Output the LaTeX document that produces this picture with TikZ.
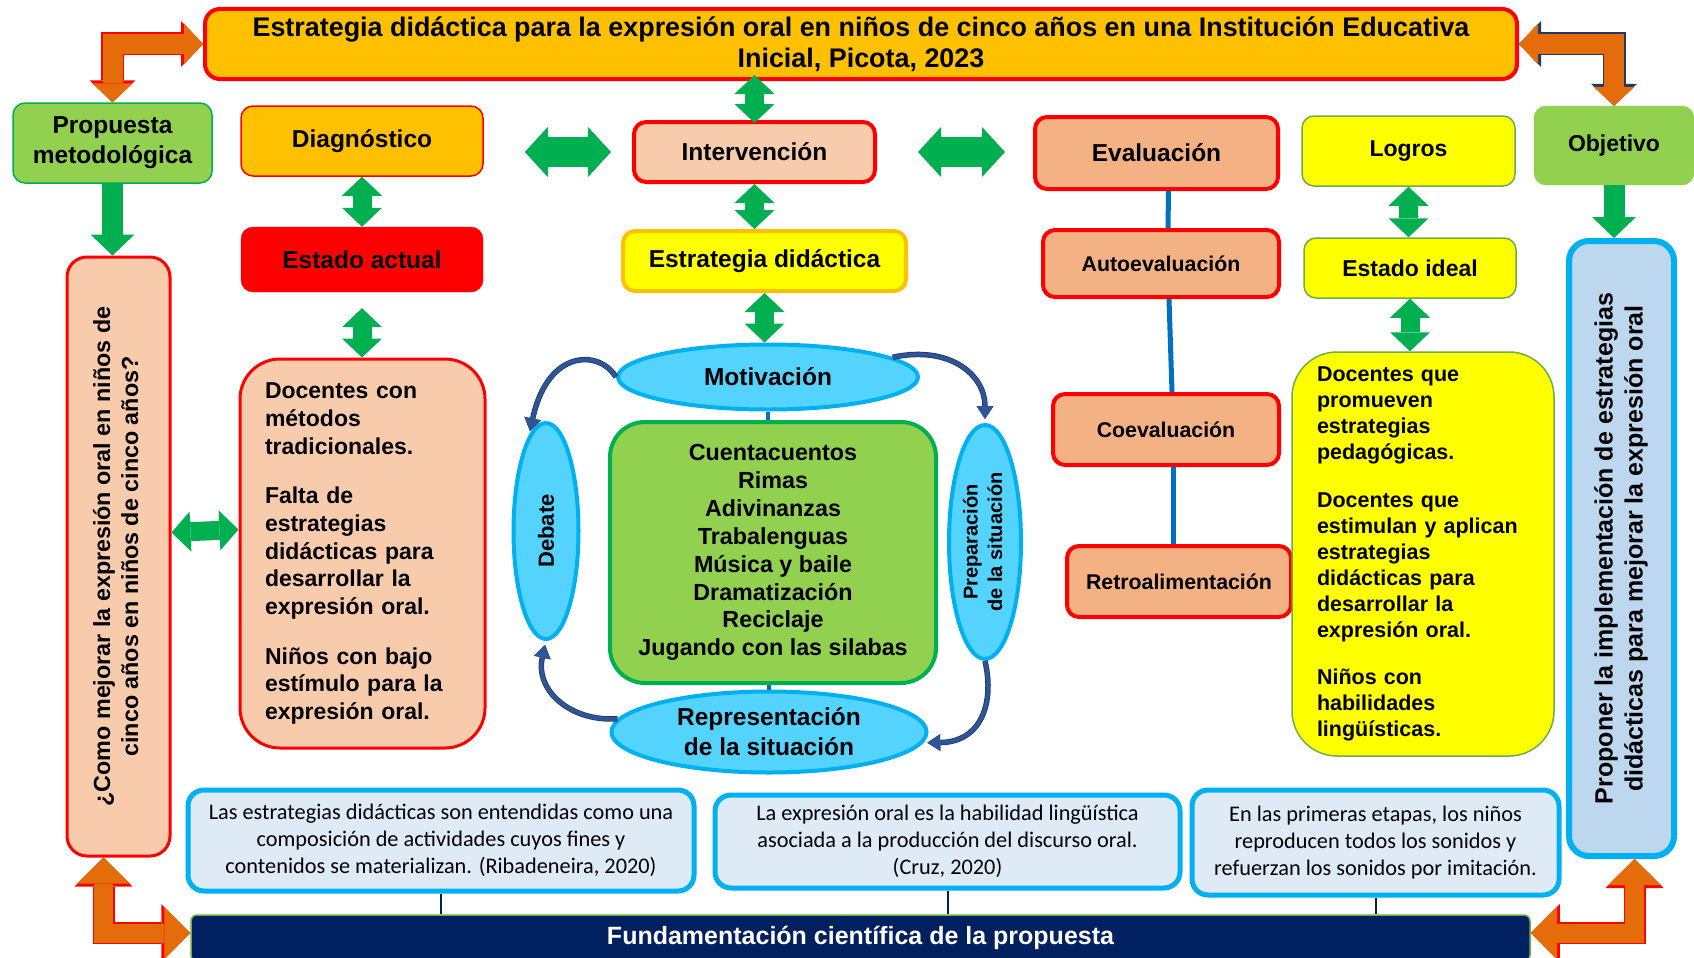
\documentclass[tikz,border=0pt]{standalone}
\usepackage{fontspec}
\setmainfont{Liberation Sans}
\newfontfamily\calibri{Carlito}
\usetikzlibrary{arrows.meta,shapes.geometric}

\definecolor{oro}{HTML}{FFC000}
\definecolor{rojo}{HTML}{FF0000}
\definecolor{verdeclaro}{HTML}{92D050}
\definecolor{verde}{HTML}{00B050}
\definecolor{salmon}{HTML}{F8CBAD}
\definecolor{durazno}{HTML}{F4B183}
\definecolor{amarillo}{HTML}{FFFF00}
\definecolor{verdeborde}{HTML}{70AD47}
\definecolor{celeste}{HTML}{BDD7EE}
\definecolor{cian}{HTML}{00B0F0}
\definecolor{cielo}{HTML}{55D3FF}
\definecolor{nube}{HTML}{DEEBF7}
\definecolor{marino}{HTML}{002060}
\definecolor{naranja}{HTML}{E46C0A}
\definecolor{azul}{HTML}{0070C0}
\definecolor{flechaazul}{HTML}{2F5597}
\definecolor{bordeoscuro}{HTML}{203864}

\tikzset{
  caja/.style={rounded corners=12pt, align=center, inner sep=0pt,
    font=\fontsize{24.5}{30}\selectfont\bfseries},
  subcaja/.style={caja, fill=durazno, draw=rojo, line width=4pt,
    font=\fontsize{21.3}{26}\selectfont\bfseries},
  cita/.style={fill=nube, draw=cian, line width=5pt, rounded corners=16pt,
    align=center, inner sep=0pt, font=\calibri\fontsize{22.3}{27}\selectfont},
  ovalo/.style={ellipse, fill=cielo, draw=cian, line width=4pt, inner sep=0pt,
    align=center},
  dobleV/.style={draw=verde, line width=19pt,
    >={Triangle[length=19pt,width=40pt,line width=0pt]}, <->},
  dobleH/.style={draw=verde, line width=30pt,
    >={Triangle[length=23pt,width=50pt,line width=0pt]}, <->},
  bajada/.style={draw=verde, line width=21pt,
    >={Triangle[length=21pt,width=44pt,line width=0pt]}, ->},
  codoborde/.style={line width=23pt, line join=miter,
    >={Triangle[length=22pt,width=46pt,line width=0pt]}, <->},
  codo/.style={draw=naranja, line width=20pt, line join=miter,
    >={Triangle[length=19pt,width=41pt,line width=0pt]}, <->},
  codobordeb/.style={draw=rojo, line width=22pt, line join=miter,
    >={Triangle[length=29pt,width=58pt,line width=0pt]}, <->},
  codob/.style={draw=naranja, line width=19pt, line join=miter,
    >={Triangle[length=26pt,width=53pt,line width=0pt]}, <->},
  ciclo/.style={draw=flechaazul, line width=4pt,
    preaction={draw=bordeoscuro, line width=5.5pt},
    -{Triangle[length=13pt,width=17pt,line width=0pt]}},
  enlace/.style={draw=azul, line width=5pt}
}

\begin{document}
\begin{tikzpicture}[x=1pt,y=-1pt]
\useasboundingbox (0,0) rectangle (1694,958);

% titulo
\node[caja, fill=oro, draw=rojo, line width=4pt, rounded corners=15pt,
  minimum width=1312pt, minimum height=70pt,
  font=\fontsize{26.9}{31}\selectfont\bfseries] (titulo) at (861,44)
  {Estrategia didáctica para la expresión oral en niños de cinco años en una Institución Educativa\\Inicial, Picota, 2023};

% fila superior
\node[caja, fill=verdeclaro, draw=verde, line width=1.5pt, minimum width=199pt,
  minimum height=80pt] (propuesta) at (112.5,143) {Propuesta\\metodológica};
\node[caja, fill=oro, draw=rojo, line width=1.5pt, minimum width=242pt,
  minimum height=70pt] (diagnostico) at (362,141) {Diagnóstico};
\node[caja, fill=rojo, draw=rojo, minimum width=242pt, minimum height=65pt]
  (actual) at (362,259.5) {Estado actual};
\node[caja, fill=salmon, draw=rojo, line width=4pt, minimum width=241pt,
  minimum height=60pt] (intervencion) at (754.5,152) {Intervención};
\node[caja, fill=amarillo, draw=oro, line width=4pt, minimum width=283pt,
  minimum height=60pt] (estrategia) at (764.5,261) {Estrategia didáctica};
\node[caja, fill=durazno, draw=rojo, line width=4pt, minimum width=243pt,
  minimum height=72pt] (evaluacion) at (1156.5,153) {Evaluación};
\node[caja, fill=amarillo, draw=verdeborde, line width=1.5pt, minimum width=213pt,
  minimum height=70pt, font=\fontsize{23}{28}\selectfont\bfseries]
  (logros) at (1408.5,151) {Logros};
\node[caja, fill=verdeclaro, draw=verdeclaro, minimum width=160pt,
  minimum height=79pt, font=\fontsize{23}{28}\selectfont\bfseries]
  (objetivo) at (1614,145.5) {Objetivo};
\node[caja, fill=amarillo, draw=verdeborde, line width=1.5pt, minimum width=212pt,
  minimum height=60pt, font=\fontsize{23}{28}\selectfont\bfseries]
  (ideal) at (1410,268) {Estado ideal};

% evaluacion
\node[subcaja, minimum width=236pt, minimum height=67pt] (auto) at (1161,263.5) {Autoevaluación};
\node[subcaja, minimum width=226pt, minimum height=71pt] (coev) at (1166,429.5) {Coevaluación};
\node[subcaja, minimum width=224pt, minimum height=71pt] (retro) at (1179,581.5) {Retroalimentación};

% columnas laterales
\node[fill=salmon, draw=rojo, line width=3pt, rounded corners=20pt,
  minimum width=103pt, minimum height=599pt, inner sep=0pt,
  font=\fontsize{23.3}{28}\selectfont\bfseries] (pregunta) at (118.5,556.5)
  {\rotatebox{90}{\begin{tabular}{@{}c@{}}¿Como mejorar la expresión oral en niños de\\cinco años en niños de cinco años?\end{tabular}}};
\node[fill=celeste, draw=cian, line width=6pt, rounded corners=20pt,
  minimum width=105pt, minimum height=615pt, inner sep=0pt,
  font=\fontsize{25}{30}\selectfont\bfseries] (proponer) at (1621.5,548.5)
  {\rotatebox{90}{\begin{tabular}{@{}c@{}}Proponer la implementación de estrategias\\didácticas para mejorar la expresión oral\end{tabular}}};

\node[fill=salmon, draw=rojo, line width=3pt, rounded corners=40pt,
  minimum height=389pt, text width=195pt, inner xsep=25pt, inner ysep=0pt,
  align=left, font=\fontsize{23}{27.8}\selectfont\bfseries]
  (actualtexto) at (362.5,553.5)
  {Docentes con\\métodos\\tradicionales.\\[21.6pt]Falta de\\estrategias\\didácticas para\\desarrollar la\\expresión oral.\\[21.6pt]Niños con bajo\\estímulo para la\\expresión oral.};
\node[fill=amarillo, draw=verdeborde, line width=1.5pt, rounded corners=45pt,
  minimum height=404pt, text width=212pt, inner xsep=25pt, inner ysep=0pt,
  align=left, font=\fontsize{21.5}{26}\selectfont\bfseries]
  (idealtexto) at (1423,554)
  {Docentes que\\promueven\\estrategias\\pedagógicas.\\[21.6pt]Docentes que\\estimulan y aplican\\estrategias\\didácticas para\\desarrollar la\\expresión oral.\\[21.6pt]Niños con\\habilidades\\lingüísticas.};

% ciclo de la estrategia
\node[ovalo, minimum width=300pt, minimum height=65pt,
  font=\fontsize{24.5}{30}\selectfont\bfseries] (motivacion) at (768,377) {Motivación};
\node[fill=verdeclaro, draw=verde, line width=4pt, rounded corners=35pt,
  minimum width=326pt, minimum height=261pt, inner sep=0pt, align=center,
  font=\fontsize{23.3}{27.9}\selectfont\bfseries] (actividades) at (773,552.5)
  {Cuentacuentos\\Rimas\\Adivinanzas\\Trabalenguas\\Música y baile\\Dramatización\\Reciclaje\\Jugando con las silabas};
\node[ovalo, minimum width=65pt, minimum height=216pt,
  font=\fontsize{22}{26}\selectfont\bfseries] (debate) at (546,531)
  {\rotatebox{90}{Debate}};
\node[ovalo, minimum width=72pt, minimum height=234pt,
  font=\fontsize{20}{24.5}\selectfont\bfseries] (preparacion) at (985,542)
  {\rotatebox{90}{\begin{tabular}{@{}c@{}}Preparación\\de la situación\end{tabular}}};
\node[ovalo, minimum width=315pt, minimum height=81pt,
  font=\fontsize{24.5}{30}\selectfont\bfseries] (representacion) at (769,732)
  {Representación\\de la situación};

% citas y fundamentacion
\node[cita, minimum width=506pt, minimum height=101pt] (cita1) at (441,840.5)
  {Las estrategias didácticas son entendidas como una\\composición de actividades cuyos fines y\\contenidos se materializan. (Ribadeneira, 2020)};
\node[cita, minimum width=465pt, minimum height=93pt] (cita2) at (947.5,841.5)
  {La expresión oral es la habilidad lingüística\\asociada a la producción del discurso oral.\\(Cruz, 2020)};
\node[cita, minimum width=367pt, minimum height=105pt] (cita3) at (1375.5,842.5)
  {En las primeras etapas, los niños\\reproducen todos los sonidos y\\refuerzan los sonidos por imitación.};
\node[fill=marino, draw=verdeborde, line width=1.5pt, rounded corners=6pt,
  minimum width=1339pt, minimum height=46pt, inner sep=0pt, text=white,
  font=\fontsize{25}{30}\selectfont\bfseries] (fundamentacion) at (860.5,938)
  {Fundamentación científica de la propuesta};

% flechas verdes
\draw[bajada] (propuesta.south) -- (propuesta.south |- pregunta.north);
\draw[bajada] (objetivo.south) -- (objetivo.south |- proponer.north);
\draw[dobleV] (diagnostico.south) -- (actual.north);
\draw[dobleV, shorten <=16pt] (actual.south) -- (actual.south |- actualtexto.north);
\draw[dobleV] ([yshift=24pt]pregunta.east) -- ([yshift=24pt]actualtexto.west);
\draw[dobleH, shorten <=41pt, shorten >=21pt] (diagnostico.east |- intervencion.west) -- (intervencion.west);
\draw[dobleH, shorten <=41pt, shorten >=28pt] (intervencion.east) -- (intervencion.east -| evaluacion.west);
\draw[dobleV, shorten <=-6pt, shorten >=-3pt] (titulo.south -| intervencion.north) -- (intervencion.north);
\draw[dobleV] (intervencion.south) -- (intervencion.south |- estrategia.north);
\draw[dobleV] (estrategia.south) -- (estrategia.south |- motivacion.north);
\draw[dobleV] (logros.south) -- (logros.south |- ideal.north);
\draw[dobleV] (ideal.south) -- (ideal.south |- idealtexto.north);

% flechas naranjas
\draw[codoborde, draw=rojo] (titulo.west) -| (propuesta.north);
\draw[codo] (titulo.west) -| (propuesta.north);
\draw[codoborde, draw=bordeoscuro] (titulo.east) -| (objetivo.north);
\draw[codo] (titulo.east) -| (objetivo.north);
\draw[codobordeb] ([xshift=-15pt]pregunta.south) |- ([yshift=5pt]fundamentacion.west);
\draw[codob] ([xshift=-15pt]pregunta.south) |- ([yshift=5pt]fundamentacion.west);
\draw[codobordeb] ([xshift=13pt]proponer.south) |- ([yshift=5pt]fundamentacion.east);
\draw[codob] ([xshift=13pt]proponer.south) |- ([yshift=5pt]fundamentacion.east);

% lineas azules
\draw[enlace] ([xshift=12pt]evaluacion.south) -- ([xshift=7pt]auto.north);
\draw[enlace] ([xshift=8pt]auto.south) -- ([xshift=6pt]coev.north);
\draw[enlace] ([xshift=7pt]coev.south) -- ([xshift=-6pt]retro.north);
\draw[enlace, line width=4pt] (motivacion.south) -- (motivacion.south |- actividades.north);
\draw[enlace, line width=4pt] (actividades.south -| representacion.north) -- (representacion.north);

% ciclo
\draw[ciclo, shorten >=4pt] (motivacion.west) .. controls (600,350) and (548,348) .. (debate.100);
\draw[ciclo, shorten >=4pt] (motivacion.9) .. controls (950,345) and (985,375) .. (preparacion.north);
\draw[ciclo, shorten >=4pt] (preparacion.south) .. controls (995,705) and (980,742) .. (representacion.-4);
\draw[ciclo, shorten >=4pt] (representacion.175) .. controls (570,722) and (535,690) .. (debate.south);

% conectores de las citas
\foreach \c in {cita1,cita2,cita3}
  \draw[marino, line width=2pt] (\c.south) -- (\c.south |- fundamentacion.north);
\end{tikzpicture}
\end{document}
